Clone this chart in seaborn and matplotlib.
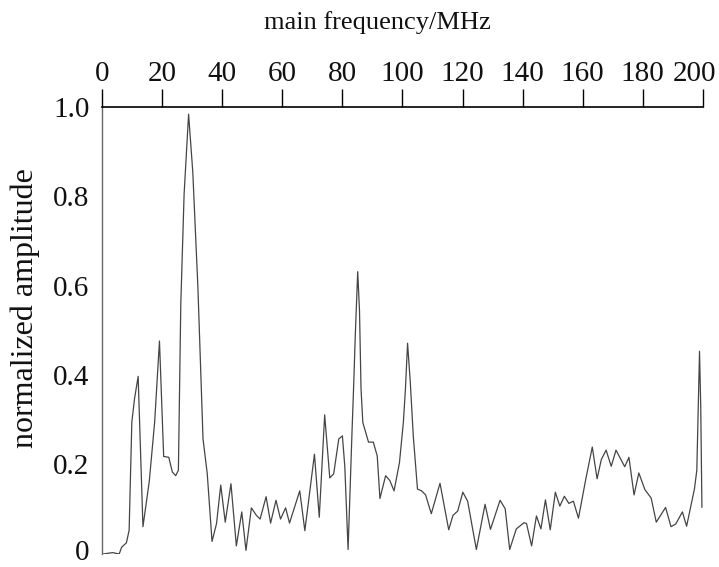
import numpy as np
import pandas as pd
import matplotlib
matplotlib.use("Agg")
import matplotlib.pyplot as plt
import matplotlib.transforms as mtransforms
import seaborn as sns

freq_mhz = [0.4, 3.5, 5.7, 6.5, 8.1, 9.0, 9.9, 10.8, 12.0, 13.6, 15.7, 17.5, 19.1, 20.5,
            22.2, 23.4, 24.5, 25.4, 26.2, 27.3, 28.8, 30.2, 31.9, 33.6, 35.0, 36.6, 38.1,
            39.5, 41.0, 42.9, 44.7, 46.5, 47.9, 49.7, 51.4, 52.6, 54.6, 56.1, 57.9, 59.4,
            61.1, 62.4, 65.8, 67.5, 70.7, 72.3, 74.1, 75.8, 77.1, 78.8, 80.0, 80.8, 81.9,
            83.2, 83.8, 84.3, 85.1, 85.7, 86.2, 86.8, 88.7, 90.3, 91.6, 92.5, 94.4, 95.8,
            97.2, 99.0, 100.3, 101.0, 101.7, 102.6, 103.6, 105.0, 106.4, 107.7, 109.6,
            112.5, 115.4, 116.8, 118.4, 120.1, 121.7, 124.6, 127.5, 129.3, 132.5, 134.2,
            135.7, 137.9, 140.5, 141.3, 143.0, 144.6, 146.1, 147.6, 149.2, 150.9, 152.4,
            153.9, 155.4, 156.9, 158.6, 161.0, 163.2, 164.8, 166.2, 167.8, 169.5, 171.1,
            174.0, 175.4, 177.1, 178.7, 180.7, 182.8, 184.5, 187.6, 189.4, 191.0, 193.2,
            194.6, 197.2, 198.0, 198.5, 198.9, 199.3, 199.7]
amplitude = [0.0, 0.003, 0.0, 0.015, 0.025, 0.053, 0.295, 0.347, 0.397, 0.061, 0.162, 0.295,
             0.476, 0.218, 0.216, 0.183, 0.175, 0.187, 0.558, 0.804, 0.983, 0.853, 0.595,
             0.257, 0.180, 0.028, 0.068, 0.154, 0.071, 0.157, 0.018, 0.094, 0.008, 0.103,
             0.086, 0.078, 0.128, 0.069, 0.120, 0.078, 0.103, 0.069, 0.141, 0.052, 0.223,
             0.082, 0.311, 0.170, 0.179, 0.257, 0.264, 0.196, 0.010, 0.272, 0.385, 0.490,
             0.631, 0.543, 0.370, 0.294, 0.250, 0.250, 0.219, 0.124, 0.175, 0.164, 0.141,
             0.204, 0.294, 0.370, 0.471, 0.385, 0.264, 0.145, 0.141, 0.132, 0.090, 0.158,
             0.054, 0.086, 0.096, 0.138, 0.118, 0.010, 0.111, 0.055, 0.120, 0.101, 0.010,
             0.056, 0.070, 0.068, 0.018, 0.085, 0.056, 0.121, 0.054, 0.138, 0.107, 0.129,
             0.113, 0.118, 0.080, 0.166, 0.239, 0.168, 0.211, 0.232, 0.196, 0.232, 0.195,
             0.216, 0.132, 0.181, 0.144, 0.125, 0.071, 0.104, 0.061, 0.067, 0.094, 0.062,
             0.145, 0.187, 0.332, 0.453, 0.332, 0.104]

x_ticks = [0, 20, 40, 60, 80, 100, 120, 140, 160, 180, 200]
y_ticks = [0, 0.2, 0.4, 0.6, 0.8, 1.0]
y_tick_labels = ["0", "0.2", "0.4", "0.6", "0.8", "1.0"]
x_title = "main frequency/MHz"
y_title = "normalized amplitude"

sns.set_style("white")
plt.rcParams["font.family"] = ["Liberation Serif", "DejaVu Serif"]

df = pd.DataFrame({"freq": freq_mhz, "amp": amplitude})

fig = plt.figure(figsize=(7.19, 5.67), dpi=100)
ax = fig.add_axes([0.142, 0.023, 0.8355, 0.789])
sns.lineplot(data=df, x="freq", y="amp", ax=ax, color="#454545", linewidth=0.9,
             sort=False, estimator=None)

ax.set_xlim(0, 200)
ax.set_ylim(0, 1.0)
ax.xaxis.tick_top()
ax.xaxis.set_label_position("top")
ax.set_xticks(x_ticks)
ax.set_xticklabels([str(v) for v in x_ticks])
ax.set_yticks(y_ticks)
ax.set_yticklabels(y_tick_labels)
ax.tick_params(axis="x", direction="out", length=13, width=1.0, color="black",
               labelsize=21, pad=1, top=True, bottom=False, labelcolor="#111111")
ax.tick_params(axis="y", direction="out", length=7, width=1.0, color="#555555",
               labelsize=21, pad=2, labelcolor="#111111")
ax.set_xlabel(x_title, fontsize=19, color="#111111")
ax.xaxis.set_label_coords(0.459, 1.174)
ax.set_ylabel(y_title, fontsize=23, color="#111111")
ax.yaxis.set_label_coords(-0.103, 0.55)
for side in ["right", "bottom"]:
    ax.spines[side].set_visible(False)
ax.spines["top"].set_color("black")
ax.spines["top"].set_linewidth(1.2)
ax.spines["left"].set_color("#666666")
ax.spines["left"].set_linewidth(1.0)
ax.grid(False)

# keep the edge labels inside the canvas, as in the reference
last_x = ax.get_xticklabels()[-1]
last_x.set_transform(last_x.get_transform() +
                     mtransforms.ScaledTranslation(-6 / 72, 0, fig.dpi_scale_trans))
first_y = ax.get_yticklabels()[0]
first_y.set_transform(first_y.get_transform() +
                      mtransforms.ScaledTranslation(0, 3 / 72, fig.dpi_scale_trans))

fig.savefig("out.png", dpi=100)
